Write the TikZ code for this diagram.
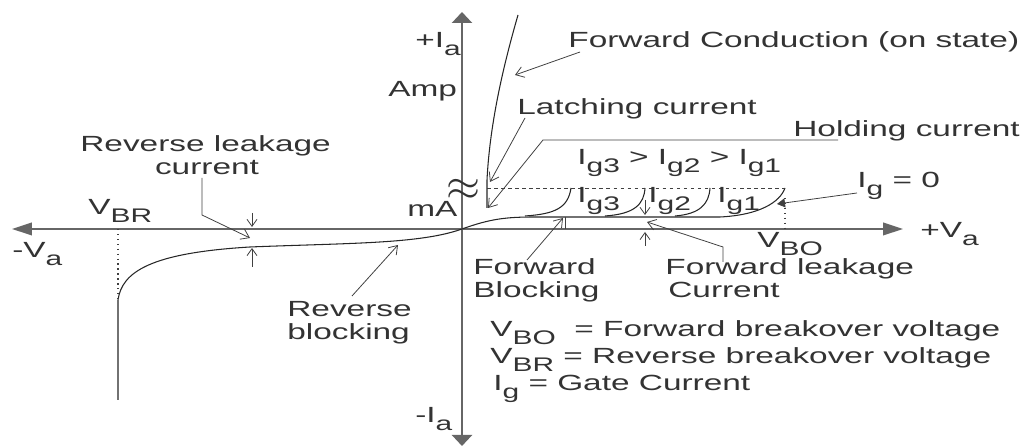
\documentclass[tikz,border=0pt]{standalone}
\usepackage{fontspec}
\setmainfont[FakeStretch=1.52]{Liberation Sans}
\usetikzlibrary{arrows.meta}
\newcommand{\sbs}[1]{\raisebox{-4pt}{\fontsize{11.2}{12}\selectfont #1}}

\begin{document}
\begin{tikzpicture}[x=0.02cm,y=-0.02cm,
	lbl/.style={anchor=base west,inner sep=0pt,text=black!80,font=\fontsize{12.5}{14}\selectfont},
	axis/.style={draw=black!60,line width=1.3pt},
	curve/.style={line width=0.6pt,draw=black!85},
	ptr/.style={line width=0.45pt,draw=black!75,-{Straight Barb[length=1.6mm,width=2.2mm]}},
	tick/.style={line width=0.45pt,draw=black!75,-{Straight Barb[length=1.4mm,width=2mm]}}]
	\useasboundingbox (0,0) rectangle (1029,448);
	% axes
	\draw[axis,{Triangle[length=0.4cm,width=0.25cm]}-{Triangle[length=0.4cm,width=0.25cm]}] (12,229) -- (903,229);
	\draw[axis,{Triangle[length=0.22cm,width=0.4cm]}-{Triangle[length=0.22cm,width=0.4cm]}] (462,446) -- (462,12);
	\node[lbl] (ipos) at (415,48) {+I\sbs{a}};
	\node[lbl] (amp) at (388,97) {Amp};
	\node[lbl] (ma) at (407,217) {mA};
	\node[lbl] (ineg) at (415,423) {-I\sbs{a}};
	\node[lbl] (vneg) at (12,258) {-V\sbs{a}};
	\node[lbl] (vpos) at (920,238) {+V\sbs{a}};
	\node[text=black!80,inner sep=0pt] (brk) at (463,190) {\fontsize{24}{24}\selectfont$\approx$};
	% reverse side
	\draw[curve] (118,400) -- (118,300) .. controls (122,272) and (150,253) .. (250,247)
		.. controls (350,243) and (420,244) .. (462,229);
	\draw[dotted,line width=0.8pt,black!75] (118,229) -- (118,300);
	\node[lbl] (vbr) at (88,215) {V\sbs{BR}};
	% forward side
	\draw[curve] (462,229) .. controls (490,219) and (505,217) .. (535,217) -- (720,217)
		.. controls (760,215) and (780,202) .. (785,188);
	\draw[curve] (525,216) .. controls (555,214) and (568,208) .. (571,188);
	\draw[curve] (605,216) .. controls (635,214) and (644,204) .. (645,188);
	\draw[curve] (675,216) .. controls (700,214) and (709,204) .. (710,188);
	\draw[curve] (487,208) -- (487,180) .. controls (490,120) and (505,60) .. (518,15);
	\draw[dash pattern=on 2pt off 2pt,line width=0.4pt,black!75] (487,188) -- (785,188);
	\draw[dotted,line width=0.8pt,black!75] (785,198) -- (785,229);
	\draw[line width=0.45pt,black!75] (565,217) -- (565,229);
	\node[lbl] (vbo) at (757,248) {V\sbs{BO}};
	\node[lbl] (ig3) at (577,203) {I\sbs{g3}};
	\node[lbl] (ig2) at (648,203) {I\sbs{g2}};
	\node[lbl] (ig1) at (717,203) {I\sbs{g1}};
	\node[lbl] (order) at (577,165) {I\sbs{g3} > I\sbs{g2} > I\sbs{g1}};
	% labels and pointers
	\node[lbl] (fcon) at (568,48) {Forward Conduction (on state)};
	\node[lbl] (latch) at (517,115) {Latching current};
	\node[lbl] (hold) at (793,137) {Holding current};
	\node[lbl] (ig0) at (857,188) {I\sbs{g} = 0};
	\node[lbl] (rlk1) at (80,152) {Reverse leakage};
	\node[lbl,anchor=base] (rlk2) at (207,175) {current};
	\node[lbl] (rbl1) at (287,317) {Reverse};
	\node[lbl] (rbl2) at (287,340) {blocking};
	\node[lbl] (fbl1) at (473,275) {Forward};
	\node[lbl] (fbl2) at (473,298) {Blocking};
	\node[lbl] (flk1) at (665,275) {Forward leakage};
	\node[lbl] (flk2) at (668,298) {Current};
	\coordinate (tcon) at (515,75);
	\coordinate (tlatch) at (490,182);
	\coordinate (thold) at (488,208);
	\coordinate (tig0) at (777,204);
	\coordinate (trlk) at (250,238);
	\coordinate (trbl) at (398,245);
	\coordinate (tfbl) at (563,218);
	\coordinate (tflk) at (647,222);
	\draw[ptr] ([shift={(12,4)}]fcon.base west) -- (tcon);
	\draw[ptr] ([shift={(8,3)}]latch.base west) -- (tlatch);
	\draw[ptr] ([shift={(45,3)}]hold.base west) -- (543,140) -- (thold);
	\draw[line width=0.45pt,black!75,-{Triangle[length=1.6mm,width=1.8mm]}] ([shift={(0,5)}]ig0.base west) -- (tig0);
	\draw[ptr] ([shift={(-5,3)}]rlk2.base) -- (202,215) -- (trlk);
	\draw[ptr] ([shift={(65,-21)}]rbl1.base west) -- (trbl);
	\draw[ptr] ([shift={(54,-15)}]fbl1.base west) -- (tfbl);
	\draw[ptr] ([shift={(58,-13)}]flk1.base west) -- (723,247) -- (tflk);
	% leakage markers
	\draw[tick] (252,213) -- (252,227);
	\draw[tick] (252,267) -- (252,248);
	\draw[tick] (645,200) -- (645,215);
	\draw[tick] (645,246) -- (645,232);
	% legend
	\node[lbl] (leg1) at (490,337) {V\sbs{BO}\ \ = Forward breakover voltage};
	\node[lbl] (leg2) at (490,364) {V\sbs{BR} = Reverse breakover voltage};
	\node[lbl] (leg3) at (493,391) {I\sbs{g} = Gate Current};
\end{tikzpicture}
\end{document}
